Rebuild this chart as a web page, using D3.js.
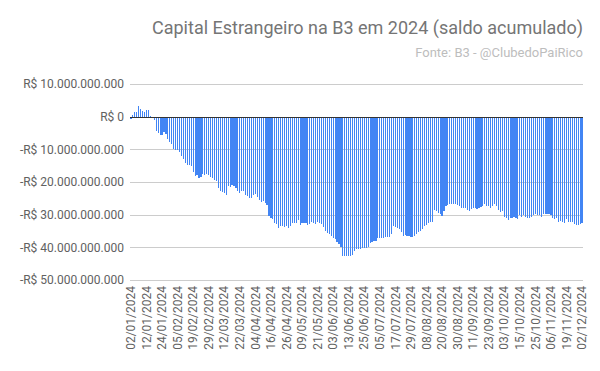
<!DOCTYPE html>
<html>
<head>
<meta charset="utf-8">
<script src="https://cdn.jsdelivr.net/npm/d3@7"></script>
<style>
  html, body { margin: 0; padding: 0; background: #fff; }
  svg { display: block; font-family: Roboto, "Noto Sans", sans-serif; }
</style>
</head>
<body>
<div id="chart"></div>
<script>
// Foreign capital at B3 in 2024, cumulative balance (billions of R$), one bar per trading day
const saldoBi = [
    -0.8, 0.6, 1.5, 1.5, 3.2, 2.5, 1.8, 1.5, 2.1, 2.1,
    0.3, -0.1, -1.1, -4.5, -5.0, -5.5, -5.6, -4.8, -5.2, -6.8,
    -7.8, -8.3, -9.8, -10.1, -10.1, -10.8, -12.0, -13.0, -14.1, -14.8,
    -14.8, -15.2, -16.9, -18.1, -18.0, -18.9, -18.6, -17.4, -17.9, -17.5,
    -18.0, -18.4, -18.7, -19.3, -19.8, -21.8, -22.8, -23.1, -23.3, -24.1,
    -21.1, -21.5, -21.0, -21.3, -21.9, -22.8, -23.5, -22.9, -22.9, -23.9,
    -24.3, -24.9, -24.9, -24.1, -23.8, -24.6, -25.4, -26.2, -25.9, -26.4,
    -27.0, -30.4, -30.9, -31.4, -32.4, -32.9, -34.0, -33.4, -33.6, -33.7,
    -33.5, -34.0, -33.4, -32.5, -32.4, -32.5, -31.7, -33.1, -32.6, -32.5,
    -32.6, -33.1, -33.0, -32.3, -32.6, -32.9, -32.3, -32.7, -33.0, -33.9,
    -34.9, -35.6, -35.8, -36.5, -37.0, -37.3, -38.5, -39.0, -39.8, -42.8,
    -42.8, -42.5, -42.7, -42.8, -42.3, -41.2, -40.5, -40.4, -40.4, -40.3,
    -40.3, -40.3, -40.0, -38.8, -38.3, -38.0, -38.0, -37.2, -37.1, -37.1,
    -37.1, -36.8, -36.8, -36.7, -35.8, -33.6, -33.9, -34.1, -34.4, -35.3,
    -36.5, -36.2, -36.4, -36.6, -36.8, -36.8, -36.6, -35.8, -35.3, -34.9,
    -34.3, -33.5, -33.2, -32.7, -32.1, -32.3, -28.7, -28.9, -29.4, -29.9,
    -30.4, -28.9, -27.4, -27.1, -26.7, -26.6, -26.6, -26.7, -27.1, -27.2,
    -28.0, -28.0, -28.0, -28.6, -28.9, -28.3, -28.0, -28.0, -28.3, -28.0,
    -27.8, -27.4, -26.8, -27.3, -27.4, -27.9, -27.4, -26.8, -27.3, -28.7,
    -29.2, -28.9, -30.6, -30.9, -31.6, -31.1, -31.1, -30.6, -30.9, -31.2,
    -30.2, -30.7, -30.0, -30.6, -30.9, -31.0, -30.6, -30.2, -29.9, -30.0,
    -30.2, -30.6, -29.9, -29.8, -29.8, -29.8, -30.0, -31.0, -31.2, -31.0,
    -32.2, -32.0, -32.2, -32.5, -31.4, -32.2, -32.2, -32.2, -32.9, -33.2,
    -33.3, -32.9, -32.4
];

// every 8th trading day gets a label
const dateLabels = [
    '02/01/2024', '12/01/2024', '24/01/2024', '05/02/2024', '19/02/2024',
    '29/02/2024', '12/03/2024', '22/03/2024', '04/04/2024', '16/04/2024',
    '26/04/2024', '09/05/2024', '21/05/2024', '03/06/2024', '13/06/2024',
    '25/06/2024', '05/07/2024', '17/07/2024', '29/07/2024', '08/08/2024',
    '20/08/2024', '30/08/2024', '11/09/2024', '23/09/2024', '03/10/2024',
    '15/10/2024', '25/10/2024', '06/11/2024', '19/11/2024', '02/12/2024'
];
const labelEvery = 8;

const yTicks = [10e9, 0, -10e9, -20e9, -30e9, -40e9, -50e9];

const title = 'Capital Estrangeiro na B3 em 2024 (saldo acumulado)';
const subtitle = 'Fonte: B3 - @ClubedoPaiRico';

(function () {
    const width = 600, height = 371;
    const margin = { top: 84, right: 17, bottom: 91, left: 130 };

    const svg = d3.select('#chart').append('svg')
        .attr('width', width)
        .attr('height', height);

    const x = d3.scaleBand()
        .domain(d3.range(saldoBi.length))
        .range([margin.left, width - margin.right])
        .paddingInner(0.4)
        .paddingOuter(0.2);

    const y = d3.scaleLinear()
        .domain([-50e9, 10e9])
        .range([height - margin.bottom, margin.top]);

    const num = d3.formatLocale({ decimal: ',', thousands: '.', grouping: [3], currency: ['R$ ', ''] }).format(',.0f');
    const brl = v => (v < 0 ? '-' : '') + 'R$ ' + num(Math.abs(v));

    // gridlines + y labels
    const grid = svg.append('g');
    grid.selectAll('line')
        .data(yTicks.filter(t => t !== 0))
        .join('line')
        .attr('x1', margin.left)
        .attr('x2', width - margin.right)
        .attr('y1', d => Math.round(y(d)) + 0.5)
        .attr('y2', d => Math.round(y(d)) + 0.5)
        .attr('stroke', '#cccccc')
        .attr('stroke-width', 1);

    svg.append('g').selectAll('text')
        .data(yTicks)
        .join('text')
        .attr('x', margin.left - 6)
        .attr('y', d => y(d))
        .attr('dy', '0.35em')
        .attr('text-anchor', 'end')
        .attr('font-size', 12)
        .attr('fill', '#616161')
        .text(brl);

    // bars
    svg.append('g').selectAll('rect')
        .data(saldoBi)
        .join('rect')
        .attr('x', (d, i) => x(i))
        .attr('width', x.bandwidth())
        .attr('y', d => y(Math.max(0, d * 1e9)))
        .attr('height', d => Math.abs(y(d * 1e9) - y(0)))
        .attr('fill', '#4285f4')
        .attr('shape-rendering', 'crispEdges');

    // zero baseline
    svg.append('line')
        .attr('x1', margin.left)
        .attr('x2', width - margin.right)
        .attr('y1', Math.round(y(0)) + 0.5)
        .attr('y2', Math.round(y(0)) + 0.5)
        .attr('stroke', '#333333')
        .attr('stroke-width', 1);

    // x labels, rotated
    svg.append('g').selectAll('text')
        .data(dateLabels)
        .join('text')
        .attr('transform', (d, i) => `translate(${x(i * labelEvery) + x.bandwidth() / 2},${height - margin.bottom + 6}) rotate(-90)`)
        .attr('dy', '0.35em')
        .attr('text-anchor', 'end')
        .attr('font-size', 12)
        .attr('fill', '#616161')
        .text(d => d);

    svg.append('text')
        .attr('x', width - margin.right)
        .attr('y', 34)
        .attr('text-anchor', 'end')
        .attr('font-size', 18)
        .attr('fill', '#757575')
        .text(title);

    svg.append('text')
        .attr('x', width - margin.right)
        .attr('y', 57)
        .attr('text-anchor', 'end')
        .attr('font-size', 13)
        .attr('fill', '#bdbdbd')
        .text(subtitle);
})();
</script>
</body>
</html>
